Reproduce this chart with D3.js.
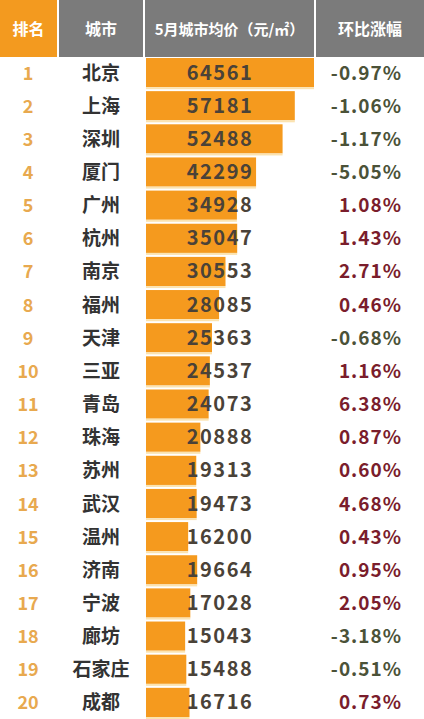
<!DOCTYPE html><html><head><meta charset="utf-8"><script src="https://cdn.jsdelivr.net/npm/d3@7"></script>
<style>body{margin:0;background:#fff}</style></head><body><svg id="c" width="424" height="719"></svg>
<script>
const cities=["北京","上海","深圳","厦门","广州","杭州","南京","福州","天津","三亚","青岛","珠海","苏州","武汉","温州","济南","宁波","廊坊","石家庄","成都"];
const prices=[64561,57181,52488,42299,34928,35047,30553,28085,25363,24537,24073,20888,19313,19473,16200,19664,17028,15043,15488,16716];
const changes=[-0.97,-1.06,-1.17,-5.05,1.08,1.43,2.71,0.46,-0.68,1.16,6.38,0.87,0.60,4.68,0.43,0.95,2.05,-3.18,-0.51,0.73];
const headers=["排名","城市","5月城市均价（元/㎡）","环比涨幅"];
const svg=d3.select("#c");
const F="'Noto Sans CJK SC',sans-serif";
const cols=[[0,57],[59,143],[145,314],[316,424]];
cols.forEach((c,i)=>{svg.append("rect").attr("x",c[0]).attr("y",0).attr("width",c[1]-c[0]).attr("height",57).attr("fill",i==0?"#f39a1f":"#7b7b7b");
svg.append("text").attr("x",(c[0]+c[1])/2).attr("y",35).attr("text-anchor","middle").attr("fill","#fff").attr("font-family",F).attr("font-size",i==2?15:16).attr("font-weight","bold").text(headers[i]);});
const y=d3.scaleBand().domain(d3.range(20)).range([58,717]).paddingInner(0.12);
const x=d3.scaleLinear().domain([0,64561]).range([0,168]);
const g=svg.selectAll("g.r").data(cities).join("g").attr("transform",(d,i)=>`translate(0,${y(i)})`);
const h=y.bandwidth(),m=h/2+7;
g.append("rect").attr("x",146).attr("y",0).attr("width",(d,i)=>x(prices[i])).attr("height",h).attr("fill","#f59a1e");
g.append("rect").attr("x",146).attr("y",h).attr("width",(d,i)=>x(prices[i])).attr("height",2).attr("fill","#fbe3b0");
g.append("text").attr("x",28).attr("y",m).attr("text-anchor","middle").attr("fill","#e8a94f").attr("font-family",F).attr("font-weight","bold").attr("font-size",18).text((d,i)=>i+1);
g.append("text").attr("x",101).attr("y",m).attr("text-anchor","middle").attr("fill","#333").attr("font-family",F).attr("font-weight","bold").attr("font-size",19).text(d=>d);
g.append("text").attr("x",220).attr("y",m).attr("text-anchor","middle").attr("fill","#4a4238").attr("font-family",F).attr("font-weight","bold").attr("font-size",20).attr("letter-spacing",1.5).text((d,i)=>prices[i]);
g.append("text").attr("x",402).attr("y",m).attr("text-anchor","end").attr("fill",(d,i)=>changes[i]<0?"#4b5238":"#7a1d2c").attr("font-family",F).attr("font-weight","bold").attr("font-size",19).attr("letter-spacing",1).text((d,i)=>changes[i].toFixed(2)+"%");
</script></body></html>
